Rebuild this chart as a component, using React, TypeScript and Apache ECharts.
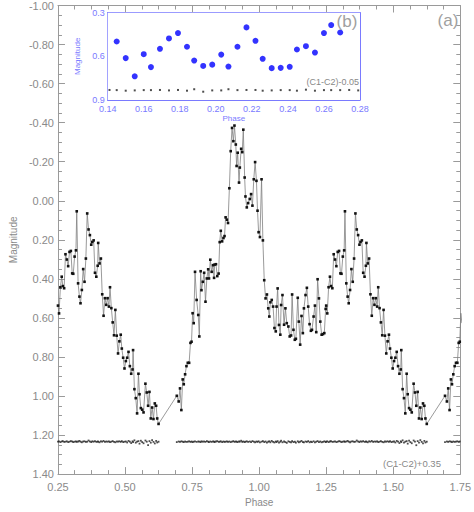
import React, { useEffect, useRef } from "react";
import * as echarts from "echarts";

// ---- Light curve, one cycle ----
const phase1 = [
  0.250, 0.254, 0.259, 0.264, 0.268, 0.273, 0.278, 0.283, 0.288, 0.293,
  0.298, 0.303, 0.307, 0.312, 0.317, 0.320, 0.325, 0.330, 0.334, 0.339,
  0.344, 0.349, 0.354, 0.359, 0.364, 0.369, 0.374, 0.378, 0.383, 0.388,
  0.393, 0.398, 0.400, 0.405, 0.410, 0.415, 0.420, 0.425, 0.430, 0.435,
  0.440, 0.444, 0.449, 0.454, 0.459, 0.464, 0.469, 0.474, 0.479, 0.484,
  0.488, 0.493, 0.498, 0.503, 0.508, 0.513, 0.518, 0.523, 0.528, 0.530,
  0.535, 0.540, 0.545, 0.550, 0.554, 0.559, 0.564, 0.569, 0.576, 0.581,
  0.586, 0.591, 0.596, 0.601, 0.606, 0.611, 0.616, 0.620, 0.625,
];
const mag1 = [
  0.537, 0.577, 0.443, 0.389, 0.437, 0.448, 0.274, 0.301, 0.335, 0.262,
  0.257, 0.372, 0.374, 0.286, 0.254, 0.054, 0.423, 0.491, 0.525, 0.457,
  0.350, 0.415, 0.296, 0.065, 0.147, 0.176, 0.225, 0.211, 0.203, 0.369,
  0.389, 0.333, 0.216, 0.321, 0.296, 0.479, 0.589, 0.499, 0.533, 0.499,
  0.542, 0.443, 0.550, 0.623, 0.689, 0.559, 0.691, 0.782, 0.720, 0.686,
  0.757, 0.804, 0.859, 0.821, 0.804, 0.774, 0.847, 0.886, 0.864, 0.765,
  0.965, 1.011, 1.089, 0.886, 0.991, 1.062, 1.070, 1.084, 0.937, 0.982,
  1.050, 0.979, 1.115, 1.059, 1.118, 1.038, 1.050, 1.115, 1.143,
];
const comp1 = [
  1.234, 1.232, 1.236, 1.233, 1.231, 1.235, 1.234, 1.232, 1.236, 1.234,
  1.231, 1.233, 1.236, 1.234, 1.232, 1.235, 1.233, 1.230, 1.234, 1.237,
  1.233, 1.232, 1.235, 1.234, 1.228, 1.233, 1.236, 1.232, 1.234, 1.231,
  1.235, 1.233, 1.234, 1.237, 1.232, 1.234, 1.230, 1.235, 1.233, 1.234,
  1.232, 1.236, 1.234, 1.231, 1.235, 1.237, 1.233, 1.234, 1.232, 1.235,
  1.231, 1.236, 1.234, 1.233, 1.238, 1.230, 1.234, 1.241, 1.232, 1.236,
  1.227, 1.239, 1.234, 1.231, 1.244, 1.229, 1.236, 1.242, 1.228, 1.234,
  1.252, 1.231, 1.239, 1.226, 1.235, 1.243, 1.230, 1.238, 1.234,
];

const phase2 = [
  0.693, 0.700, 0.705, 0.710, 0.715, 0.719, 0.724, 0.729, 0.734, 0.739,
  0.744, 0.748, 0.752, 0.756, 0.761,
  0.767, 0.773, 0.777, 0.782, 0.785, 0.790, 0.795, 0.800, 0.805, 0.810,
  0.813, 0.818, 0.823, 0.828, 0.832, 0.834, 0.839, 0.844, 0.849, 0.853,
  0.857, 0.862, 0.867, 0.871, 0.875, 0.880, 0.884, 0.889, 0.894, 0.899,
  0.904, 0.908, 0.913, 0.916, 0.920, 0.925, 0.928, 0.933, 0.937, 0.941,
  0.946, 0.949, 0.954, 0.959, 0.965, 0.970, 0.975, 0.980, 0.985, 0.990,
  0.994, 0.998, 1.003, 1.009, 1.014, 1.019, 1.024, 1.029, 1.034, 1.038,
  1.042, 1.047, 1.052, 1.057, 1.062, 1.065, 1.069, 1.074, 1.079, 1.082,
  1.087,
  1.093, 1.098, 1.103, 1.109, 1.114, 1.119, 1.123, 1.128, 1.133, 1.137,
  1.144, 1.148, 1.153, 1.158, 1.163, 1.167, 1.173, 1.178, 1.183, 1.188,
  1.193, 1.197, 1.203, 1.208, 1.213, 1.218, 1.223, 1.228, 1.233, 1.238,
  1.243, 1.248,
];
const mag2 = [
  0.999, 1.028, 0.961, 1.072, 0.915, 0.940, 0.889, 0.847, 0.830, 0.830,
  0.728, 0.722, 0.576, 0.627, 0.364,
  0.508, 0.585, 0.695, 0.361, 0.458, 0.415, 0.369, 0.517, 0.398, 0.351,
  0.398, 0.302, 0.364, 0.330, 0.395, 0.327, 0.325, 0.386, 0.373, 0.212,
  0.154, 0.208, 0.191, 0.181, 0.085, 0.097, 0.114, -0.064, -0.254, -0.373,
  -0.305, -0.385, -0.288, -0.178, -0.246, -0.093, -0.170, -0.266, -0.249, -0.364,
  -0.119, -0.022, 0.034, 0.012, -0.009, -0.034, 0.025, -0.110, -0.198, -0.102,
  0.051, 0.161, 0.186, -0.110, 0.203, 0.407, 0.500, 0.480, 0.551, 0.593,
  0.520, 0.508, 0.542, 0.652, 0.669, 0.542, 0.449, 0.636, 0.686, 0.534,
  0.483,
  0.635, 0.551, 0.627, 0.644, 0.695, 0.690, 0.480, 0.661, 0.712, 0.707,
  0.497, 0.619, 0.737, 0.590, 0.678, 0.551, 0.483, 0.446, 0.542, 0.632,
  0.666, 0.661, 0.593, 0.537, 0.673, 0.402, 0.500, 0.619, 0.686, 0.683,
  0.678, 0.554,
];
const comp2 = [
  1.236, 1.233, 1.235, 1.232, 1.234, 1.236, 1.233, 1.235, 1.234, 1.232,
  1.235, 1.233, 1.236, 1.234, 1.232, 1.235, 1.233, 1.234, 1.236, 1.232,
  1.234, 1.233, 1.235, 1.231, 1.234, 1.236, 1.233, 1.235, 1.232, 1.234,
  1.236, 1.233, 1.231, 1.235, 1.234, 1.232, 1.236, 1.233, 1.235, 1.234,
  1.232, 1.235, 1.233, 1.236, 1.234, 1.231, 1.235, 1.233, 1.234, 1.236,
  1.232, 1.234, 1.229, 1.235, 1.233, 1.236, 1.234, 1.232, 1.235, 1.233,
  1.236, 1.231, 1.234, 1.237, 1.233, 1.235, 1.232, 1.238, 1.234, 1.231,
  1.236, 1.233, 1.239, 1.234, 1.232, 1.237, 1.230, 1.235, 1.238, 1.233,
  1.236, 1.231, 1.239, 1.234, 1.229, 1.237, 1.233, 1.236, 1.240, 1.232,
  1.235, 1.238, 1.231, 1.236, 1.234, 1.239, 1.232, 1.237, 1.234, 1.230,
  1.236, 1.238, 1.233, 1.235, 1.231, 1.237, 1.234, 1.236, 1.232, 1.238,
  1.234, 1.231, 1.236, 1.233, 1.237, 1.235, 1.232, 1.236,
];

// ---- Inset (b) ----
const insetPhase = [
  0.145, 0.150, 0.155, 0.160, 0.164, 0.169, 0.174, 0.179, 0.184, 0.188,
  0.193, 0.198, 0.203, 0.207, 0.212, 0.217, 0.222, 0.226, 0.231, 0.236,
  0.241, 0.245, 0.250, 0.255, 0.260, 0.264, 0.269,
];
const insetMag = [
  0.498, 0.612, 0.737, 0.585, 0.674, 0.548, 0.477, 0.440, 0.534, 0.629,
  0.666, 0.657, 0.588, 0.670, 0.534, 0.401, 0.493, 0.617, 0.681, 0.679,
  0.672, 0.553, 0.530, 0.574, 0.440, 0.385, 0.436,
];
const insetCompPhase = [
  0.141, 0.145, 0.150, 0.155, 0.160, 0.164, 0.169, 0.174, 0.179, 0.184,
  0.188, 0.193, 0.198, 0.203, 0.207, 0.212, 0.217, 0.222, 0.226, 0.231,
  0.236, 0.241, 0.245, 0.250, 0.255, 0.260, 0.264, 0.269, 0.274, 0.279,
];
const insetCompMag = [
  0.831, 0.832, 0.836, 0.834, 0.832, 0.832, 0.831, 0.834, 0.831, 0.836,
  0.826, 0.843, 0.834, 0.834, 0.826, 0.832, 0.831, 0.831, 0.836, 0.834,
  0.832, 0.832, 0.836, 0.829, 0.836, 0.832, 0.832, 0.832, 0.831, 0.834,
];

const GRAY = "#9a9a9a";
const LABEL = "#8a8a8a";
const BLUE_AX = "#7a7aff";
const FONT = "Liberation Sans";

function buildSeries(extraMax: number) {
  const lc: [number, number][] = [];
  const cp: [number, number][] = [];
  phase1.forEach((p, i) => {
    lc.push([p, mag1[i]]);
    lc.push([+(p + 1).toFixed(3), mag1[i]]);
    if (comp1[i] !== undefined) {
      cp.push([p, comp1[i]]);
      cp.push([+(p + 1).toFixed(3), comp1[i]]);
    }
  });
  phase2.forEach((p, i) => {
    lc.push([p, mag2[i]]);
    if (p + 1 <= extraMax) lc.push([+(p + 1).toFixed(3), mag2[i]]);
    if (comp2[i] !== undefined) {
      cp.push([p, comp2[i]]);
      if (p + 1 <= 1.75) cp.push([+(p + 1).toFixed(3), comp2[i]]);
    }
  });
  lc.sort((a, b) => a[0] - b[0]);
  cp.sort((a, b) => a[0] - b[0]);
  return { lc, cp };
}

const fmt2 = (v: number) => {
  const r = Math.abs(v) < 1e-9 ? 0 : v;
  return r.toFixed(2);
};

export default function App() {
  const ref = useRef<HTMLDivElement>(null);
  useEffect(() => {
    if (!ref.current) return;
    const chart = echarts.init(ref.current, undefined, { renderer: "svg" });
    const { lc, cp } = buildSeries(1.76);

    const mainX = (pos: "bottom" | "top", showLabel: boolean) => ({
      type: "value",
      gridIndex: 0,
      position: pos,
      min: 0.25,
      max: 1.75,
      interval: 0.25,
      axisLine: { show: true, onZero: false, lineStyle: { color: GRAY, width: 1 } },
      axisTick: { show: true, inside: true, length: 7, lineStyle: { color: GRAY } },
      minorTick: { show: true, splitNumber: 4, length: 4, lineStyle: { color: GRAY } },
      splitLine: { show: false },
      axisLabel: {
        show: showLabel,
        margin: 7,
        color: LABEL,
        fontSize: 11,
        fontFamily: FONT,
        formatter: fmt2,
      },
      name: showLabel ? "Phase" : "",
      nameLocation: "middle",
      nameGap: 19,
      nameTextStyle: { color: LABEL, fontSize: 10, fontFamily: FONT },
    });
    const mainY = (pos: "left" | "right", showLabel: boolean) => ({
      type: "value",
      gridIndex: 0,
      position: pos,
      inverse: true,
      min: -1.0,
      max: 1.4,
      interval: 0.2,
      axisLine: { show: true, onZero: false, lineStyle: { color: GRAY, width: 1 } },
      axisTick: { show: true, inside: true, length: 7, lineStyle: { color: GRAY } },
      minorTick: { show: true, splitNumber: 4, length: 4, lineStyle: { color: GRAY } },
      splitLine: { show: false },
      axisLabel: {
        show: showLabel,
        margin: 4,
        color: LABEL,
        fontSize: 11,
        fontFamily: FONT,
        formatter: fmt2,
      },
      name: showLabel ? "Magnitude" : "",
      nameLocation: "middle",
      nameGap: 38,
      nameTextStyle: { color: LABEL, fontSize: 10, fontFamily: FONT },
    });
    const insetX = (pos: "bottom" | "top", showLabel: boolean) => ({
      type: "value",
      gridIndex: 1,
      position: pos,
      min: 0.14,
      max: 0.28,
      interval: 0.02,
      axisLine: { show: true, onZero: false, lineStyle: { color: BLUE_AX, width: 1 } },
      axisTick: { show: true, inside: true, length: 4, lineStyle: { color: BLUE_AX } },
      minorTick: { show: false },
      splitLine: { show: false },
      axisLabel: {
        show: showLabel,
        margin: 4,
        color: BLUE_AX,
        fontSize: 9,
        fontFamily: FONT,
        formatter: (v: number) => v.toFixed(2),
      },
      name: showLabel ? "Phase" : "",
      nameLocation: "middle",
      nameGap: 14,
      nameTextStyle: { color: BLUE_AX, fontSize: 8, fontFamily: FONT },
    });
    const insetY = (pos: "left" | "right", showLabel: boolean) => ({
      type: "value",
      gridIndex: 1,
      position: pos,
      inverse: true,
      min: 0.3,
      max: 0.9,
      interval: 0.3,
      axisLine: { show: true, onZero: false, lineStyle: { color: BLUE_AX, width: 1 } },
      axisTick: { show: true, inside: true, length: 5, lineStyle: { color: BLUE_AX } },
      minorTick: { show: true, splitNumber: 4, length: 3, lineStyle: { color: BLUE_AX } },
      splitLine: { show: false },
      axisLabel: {
        show: showLabel,
        margin: 3,
        color: BLUE_AX,
        fontSize: 9,
        fontFamily: FONT,
        formatter: (v: number) => v.toFixed(1),
      },
      name: showLabel ? "Magnitude" : "",
      nameLocation: "middle",
      nameGap: 18,
      nameTextStyle: { color: BLUE_AX, fontSize: 8, fontFamily: FONT },
    });

    chart.setOption({
      animation: false,
      backgroundColor: "#ffffff",
      textStyle: { fontFamily: FONT },
      grid: [
        { left: 54.5, top: 3.5, width: 409.5, height: 474.5, containLabel: false },
        {
          left: 107.7,
          top: 12.7,
          width: 252.3,
          height: 87.3,
          show: true,
          backgroundColor: "#ffffff",
          borderWidth: 0,
          z: 5,
        },
      ],
      xAxis: [mainX("bottom", true), mainX("top", false), insetX("bottom", true), insetX("top", false)],
      yAxis: [mainY("left", true), mainY("right", false), insetY("left", true), insetY("right", false)],
      series: [
        {
          type: "line",
          xAxisIndex: 0,
          yAxisIndex: 0,
          data: lc,
          clip: true,
          symbol: "rect",
          symbolSize: 2.6,
          itemStyle: { color: "#111" },
          lineStyle: { color: "#808080", width: 0.8 },
          z: 2,
        },
        {
          type: "scatter",
          xAxisIndex: 0,
          yAxisIndex: 0,
          data: cp,
          symbol: "rect",
          symbolSize: 1.8,
          itemStyle: { color: "#222" },
          z: 2,
        },
        {
          type: "scatter",
          xAxisIndex: 2,
          yAxisIndex: 2,
          data: insetPhase.map((p, i) => [p, insetMag[i]]),
          symbol: "circle",
          symbolSize: 6,
          itemStyle: { color: "#0000ff" },
          z: 10,
        },
        {
          type: "scatter",
          xAxisIndex: 2,
          yAxisIndex: 2,
          data: insetCompPhase.map((p, i) => [p, insetCompMag[i]]),
          symbol: "rect",
          symbolSize: 2,
          itemStyle: { color: "#222" },
          z: 10,
        },
      ],
      graphic: [
        {
          type: "text",
          x: 448,
          y: 20,
          z: 20,
          style: { text: "(a)", fill: "#a0a0a0", fontSize: 17, fontFamily: FONT, align: "center", verticalAlign: "middle" },
        },
        {
          type: "text",
          x: 347,
          y: 21,
          z: 20,
          style: { text: "(b)", fill: "#a0a0a0", fontSize: 17, fontFamily: FONT, align: "center", verticalAlign: "middle" },
        },
        {
          type: "text",
          x: 359,
          y: 82,
          z: 20,
          style: { text: "(C1-C2)-0.05", fill: "#888", fontSize: 9, fontFamily: FONT, align: "right", verticalAlign: "middle" },
        },
        {
          type: "text",
          x: 412,
          y: 463,
          z: 20,
          style: { text: "(C1-C2)+0.35", fill: "#888", fontSize: 9.5, fontFamily: FONT, align: "center", verticalAlign: "middle" },
        },
      ],
    });
    return () => chart.dispose();
  }, []);
  return (
    <div
      ref={ref}
      style={{ position: "absolute", left: 0, top: 0, width: 474, height: 512 }}
    />
  );
}
